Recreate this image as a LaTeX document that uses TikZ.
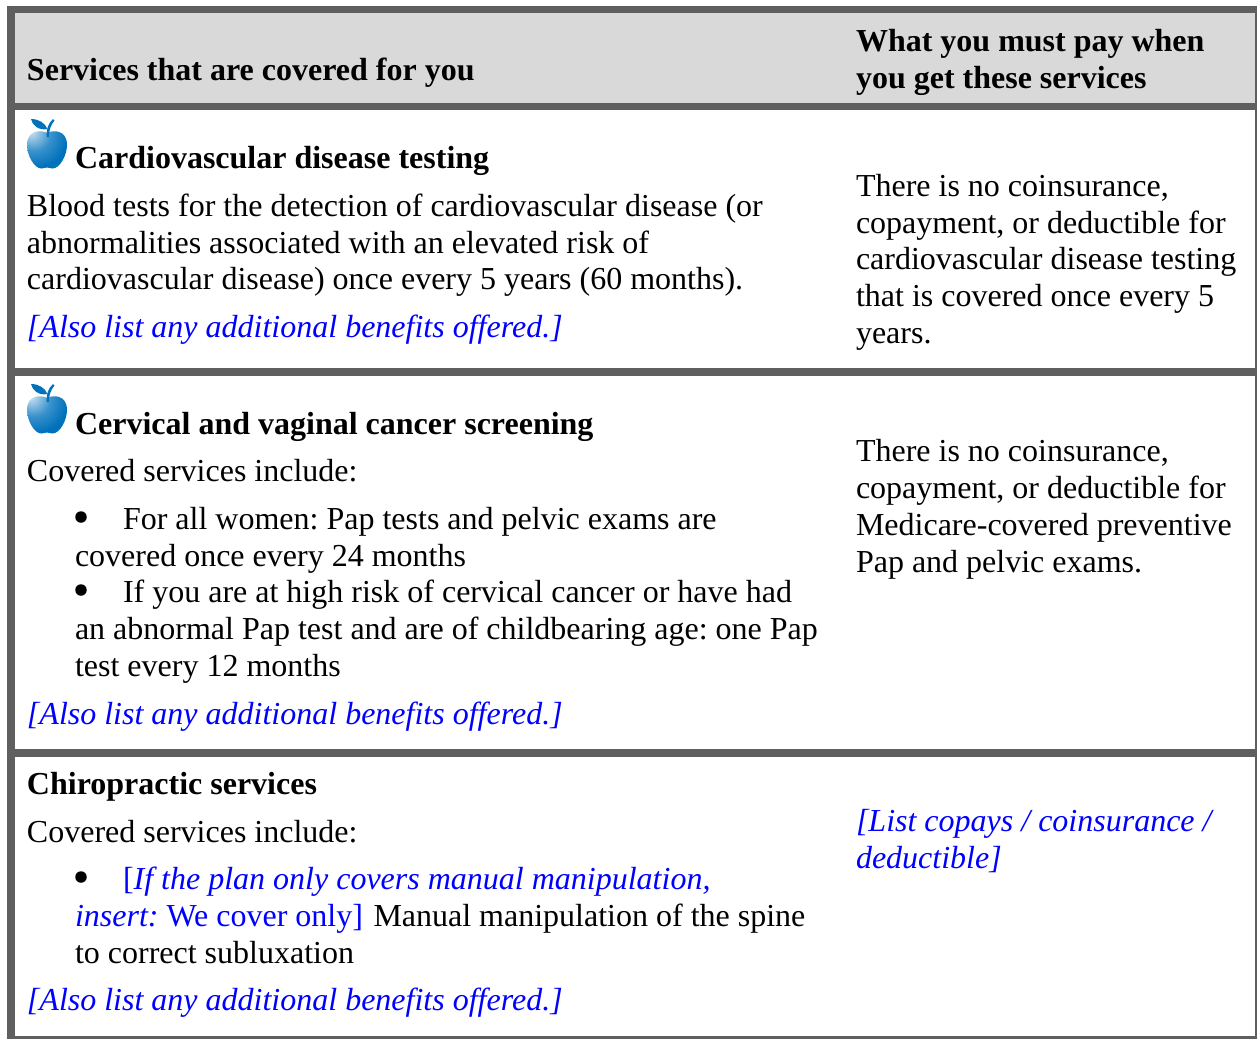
\documentclass[tikz,border=0pt]{standalone}
\usepackage{fontspec}
\setmainfont{Liberation Serif}
\frenchspacing
\definecolor{rule}{HTML}{5F5F5F}
\definecolor{headbg}{HTML}{D9D9D9}
\definecolor{plan}{HTML}{0000FF}
\definecolor{appledark}{HTML}{0072BC}
\pgfdeclareradialshading{appleshade}{\pgfpoint{-22bp}{24bp}}{
  color(0bp)=(white!88!appledark);
  color(8bp)=(white!62!appledark);
  color(22bp)=(white!22!appledark);
  color(38bp)=(appledark);
  color(100bp)=(appledark)}
\tikzset{
  txt/.style={anchor=base west,inner sep=0pt,outer sep=0pt,font=\fontsize{32}{36}\selectfont,text=black},
  hd/.style={txt,font=\fontsize{32}{36}\selectfont\bfseries},
  blue/.style={txt,text=plan},
  ital/.style={txt,text=plan,font=\fontsize{32}{36}\selectfont\itshape},
  bul/.style={circle,fill=black,inner sep=0pt,minimum size=11.5pt},
  apple/.pic={
    \shade[shading=appleshade]
      (0,-19) .. controls (-5,-22) and (-20,-23) .. (-20,-7)
      .. controls (-20,3) and (-13,16.5) .. (-5.5,16.5)
      .. controls (-3,16.5) and (-2,15.5) .. (0,15.5)
      .. controls (2,15.5) and (3,16.5) .. (5.5,16.5)
      .. controls (13,16.5) and (20,3) .. (20,-7)
      .. controls (20,-23) and (5,-22) .. (0,-19) -- cycle;
    \fill[appledark] (-0.5,-15) .. controls (-0.5,-24) and (1,-28) .. (6,-33) -- (7.5,-31.5)
      .. controls (4,-27) and (2,-23) .. (2,-15) -- cycle;
    \fill[appledark] (0.5,-23) .. controls (-2,-29) and (-8,-33) .. (-16,-33)
      .. controls (-15,-27) and (-8,-21) .. (0.5,-23) -- cycle;
  }
}
\begin{document}
\begin{tikzpicture}[x=1pt,y=-1pt]
\useasboundingbox (0,0) rectangle (1257,1039);
\fill[white] (0,0) rectangle (1257,1039);
% frame and rows
\fill[rule] (7,5.5) rectangle (1257,1039);
\fill[headbg] (15,13) rectangle (1255,102.5);
\fill[white] (15,110) rectangle (1255,368);
\fill[white] (15,376) rectangle (1255,749);
\fill[white] (15,757) rectangle (1255,1036);
% header
\node[hd] (h1) at (27,80) {Services that are covered for you};
\node[hd] (h2) at (856,51) {What you must pay when};
\node[hd] (h3) at (856,88) {you get these services};
% row 1
\pic at (47,152) {apple};
\node[hd] (a0) at (75,168) {Cardiovascular disease testing};
\node[txt] (a1) at (27,216) {Blood tests for the detection of cardiovascular disease (or};
\node[txt] (a2) at (27,253) {abnormalities associated with an elevated risk of};
\node[txt] (a3) at (27,289) {cardiovascular disease) once every 5 years (60 months).};
\node[ital] (a4) at (27,337) {[Also list any additional benefits offered.]};
\node[txt] (ar1) at (856,196) {There is no coinsurance,};
\node[txt] (ar2) at (856,233) {copayment, or deductible for};
\node[txt] (ar3) at (856,269) {cardiovascular disease testing};
\node[txt] (ar4) at (856,306) {that is covered once every 5};
\node[txt] (ar5) at (856,343) {years.};
% row 2
\pic at (47,417) {apple};
\node[hd] (b0) at (75,434) {Cervical and vaginal cancer screening};
\node[txt] (b1) at (27,481) {Covered services include:};
\node[bul] (bb1) at (81,517) {};
\node[txt] (b2) at (123,529) {For all women: Pap tests and pelvic exams are};
\node[txt] (b3) at (75,566) {covered once every 24 months};
\node[bul] (bb2) at (81,590) {};
\node[txt] (b4) at (123,602) {If you are at high risk of cervical cancer or have had};
\node[txt] (b5) at (75,639) {an abnormal Pap test and are of childbearing age: one Pap};
\node[txt] (b6) at (75,676) {test every 12 months};
\node[ital] (b7) at (27,724) {[Also list any additional benefits offered.]};
\node[txt] (br1) at (856,461) {There is no coinsurance,};
\node[txt] (br2) at (856,498) {copayment, or deductible for};
\node[txt] (br3) at (856,535) {Medicare-covered preventive};
\node[txt] (br4) at (856,572) {Pap and pelvic exams.};
% row 3
\node[hd] (c0) at (27,794) {Chiropractic services};
\node[txt] (c1) at (27,842) {Covered services include:};
\node[bul] (cb1) at (81,877) {};
\node[blue] (c2) at (123,889) {[\textit{If the plan only covers manual manipulation,}};
\node[txt] (c3) at (75,926) {\textcolor{plan}{\textit{insert:} We cover only]}\kern2.5pt{} Manual manipulation of the spine};
\node[txt] (c4) at (75,963) {to correct subluxation};
\node[ital] (c5) at (27,1010) {[Also list any additional benefits offered.]};
\node[ital] (cr1) at (856,831) {[List copays / coinsurance /};
\node[ital] (cr2) at (856,868) {deductible]};
\end{tikzpicture}
\end{document}
